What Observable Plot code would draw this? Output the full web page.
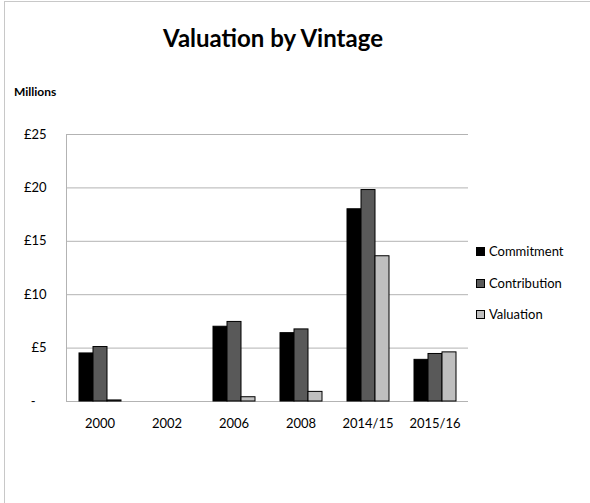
<!DOCTYPE html>
<html>
<head>
<meta charset="utf-8">
<script src="https://cdn.jsdelivr.net/npm/d3@7"></script>
<script src="https://cdn.jsdelivr.net/npm/@observablehq/plot@0.6"></script>
<style>
  html, body { margin: 0; padding: 0; background: #fff; }
  body { width: 590px; height: 503px; overflow: hidden; position: relative; font-family: Lato, "Open Sans", sans-serif; }
  #frame { position: absolute; left: 4px; top: 1px; width: 620px; height: 540px; border-left: 1px solid #c8c8c8; border-top: 1px solid #c8c8c8; }
  #title { position: absolute; left: 0; width: 546px; top: 23px; text-align: center; font-size: 24px; font-weight: bold; color: #000; }
  #units { position: absolute; left: 14px; top: 84px; font-size: 12px; font-weight: bold; color: #000; }
  #chart { position: absolute; left: 0; top: 120px; }
  #chart svg { color: #b3b3b3; }
  #chart svg text { fill: #000; }
  .leg { position: absolute; left: 476px; font-size: 13px; color: #000; display: flex; align-items: center; }
  .leg span.sw { display: inline-block; width: 9px; height: 9px; margin-right: 4px; box-sizing: border-box; border: 1px solid #000; }
</style>
</head>
<body>
<div id="frame"></div>
<div id="title">Valuation by Vintage</div>
<div id="units">Millions</div>
<div id="chart"></div>
<div id="legend"></div>
<script>
const vintages = ["2000", "2002", "2006", "2008", "2014/15", "2015/16"];
const seriesNames = ["Commitment", "Contribution", "Valuation"];
const commitment   = [4.5, null, 7.0, 6.4, 18.0, 3.9];
const contribution = [5.1, null, 7.45, 6.75, 19.8, 4.45];
const valuation    = [0.1, null, 0.4, 0.9, 13.6, 4.6];
const yTicks = [0, 5, 10, 15, 20, 25];
const colors = ["#000000", "#595959", "#bfbfbf"];

const seriesValues = [commitment, contribution, valuation];
const rows = [];
vintages.forEach((v, i) => {
  seriesNames.forEach((s, j) => rows.push({vintage: v, series: s, value: seriesValues[j][i]}));
});
// gridlines, one set per vintage facet so that every facet (including empty 2002) is drawn
const grid = [];
vintages.forEach(v => yTicks.forEach(t => grid.push({vintage: v, tick: t})));

const chart = Plot.plot({
  width: 590,
  height: 320,
  marginLeft: 66,
  marginRight: 122,
  marginTop: 14,
  marginBottom: 39,
  style: {fontFamily: "Lato, 'Open Sans', sans-serif", fontSize: "13px", background: "transparent"},
  fx: {domain: vintages, padding: 0, label: null, tickSize: 0, tickPadding: 17},
  x: {domain: seriesNames, axis: null, paddingInner: 0, paddingOuter: 0.78},
  y: {domain: [0, 25], ticks: yTicks, tickSize: 0, tickPadding: 20, label: null, line: true,
      tickFormat: d => d === 0 ? "-\u2007\u00a0" : "£" + d},
  color: {domain: seriesNames, range: colors},
  marks: [
    Plot.ruleY(grid, {fx: "vintage", y: "tick", stroke: "#b3b3b3", strokeWidth: 1}),
    Plot.barY(rows.filter(d => d.value != null), {
      fx: "vintage", x: "series", y: "value", fill: "series",
      stroke: "#000", strokeWidth: 1, inset: 0
    })
  ]
});
document.getElementById("chart").appendChild(chart);

const legend = document.getElementById("legend");
const legendTops = [243, 275, 306];
seriesNames.forEach((s, j) => {
  const div = document.createElement("div");
  div.className = "leg";
  div.style.top = legendTops[j] + "px";
  div.innerHTML = `<span class="sw" style="background:${colors[j]}"></span>${s}`;
  legend.appendChild(div);
});
</script>
</body>
</html>
